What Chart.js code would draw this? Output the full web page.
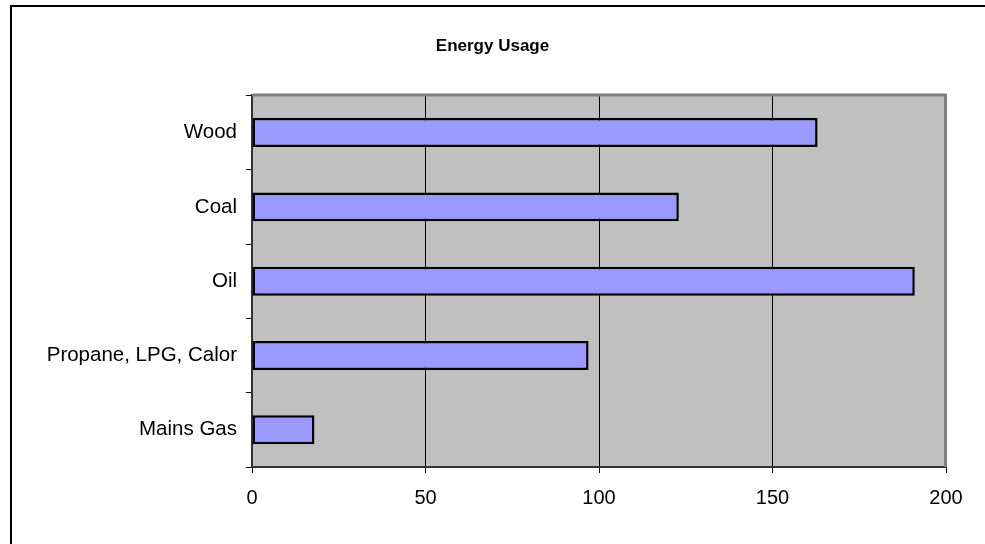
<!DOCTYPE html>
<html>
<head>
<meta charset="utf-8">
<script src="https://cdn.jsdelivr.net/npm/chart.js@4/dist/chart.umd.min.js"></script>
<style>
  html, body { margin: 0; padding: 0; background: #ffffff; }
  canvas { display: block; }
</style>
</head>
<body>
<canvas id="c" width="985" height="544"></canvas>
<script>
// ---- data ----
const chartTitle = "Energy Usage";
const categories = ["Wood", "Coal", "Oil", "Propane, LPG, Calor", "Mains Gas"];
const usageValues = [163, 123, 191, 97, 18];
const xMin = 0;
const xMax = 200;
const xStep = 50;

const FONT = "Arial, 'Liberation Sans', Helvetica, sans-serif";

const framePlugin = {
  id: 'frame',
  beforeDraw(chart) {
    const ctx = chart.ctx;
    const a = chart.chartArea;
    ctx.save();
    ctx.fillStyle = '#ffffff';
    ctx.fillRect(0, 0, chart.width, chart.height);
    // outer frame (left and top edges visible)
    ctx.strokeStyle = '#000000';
    ctx.lineWidth = 2;
    ctx.beginPath();
    ctx.moveTo(11, chart.height + 5);
    ctx.lineTo(11, 6);
    ctx.lineTo(chart.width + 5, 6);
    ctx.stroke();
    // plot area background
    ctx.fillStyle = '#C0C0C0';
    ctx.fillRect(a.left, a.top, a.right - a.left, a.bottom - a.top);
    ctx.restore();
  },
  afterDatasetsDraw(chart) {
    const ctx = chart.ctx;
    const a = chart.chartArea;
    ctx.save();
    ctx.strokeStyle = '#808080';
    ctx.lineWidth = 3;
    ctx.beginPath();
    ctx.moveTo(a.left, a.top - 0.5);
    ctx.lineTo(a.right - 0.5, a.top - 0.5);
    ctx.lineTo(a.right - 0.5, a.bottom);
    ctx.stroke();
    ctx.restore();
  }
};

new Chart(document.getElementById('c'), {
  type: 'bar',
  data: {
    labels: categories,
    datasets: [{
      label: chartTitle,
      data: usageValues,
      backgroundColor: '#9999FF',
      borderColor: '#000000',
      borderWidth: 2.5,
      borderSkipped: false,
      barPercentage: 0.39,
      categoryPercentage: 1.0
    }]
  },
  options: {
    indexAxis: 'y',
    responsive: false,
    devicePixelRatio: 1,
    animation: false,
    layout: { padding: { left: 39, right: 39, top: 0, bottom: 0 } },
    plugins: {
      legend: { display: false },
      tooltip: { enabled: false },
      title: {
        display: true,
        text: chartTitle,
        color: '#000000',
        font: { family: FONT, size: 17, weight: 'bold' },
        padding: { top: 36, bottom: 39 }
      }
    },
    scales: {
      x: {
        type: 'linear',
        min: xMin,
        max: xMax,
        afterFit(scale) { scale.height = 77; },
        ticks: {
          stepSize: xStep,
          color: '#000000',
          font: { family: FONT, size: 20 },
          padding: 13
        },
        grid: {
          color: (c) => (c.tick && (c.tick.value === xMax || c.tick.value === xMin)) ? 'rgba(0,0,0,0)' : '#000000',
          tickColor: '#000000',
          lineWidth: 1,
          tickLength: 6
        },
        border: { display: true, color: '#333333', width: 2 }
      },
      y: {
        type: 'category',
        afterFit(scale) { scale.width = 213; },
        ticks: {
          color: '#000000',
          font: { family: FONT, size: 20.5 },
          padding: 9
        },
        grid: {
          drawOnChartArea: false,
          offset: true,
          tickColor: '#000000',
          tickLength: 6,
          lineWidth: 1
        },
        border: { display: true, color: '#333333', width: 2 }
      }
    }
  },
  plugins: [framePlugin]
});
</script>
</body>
</html>
